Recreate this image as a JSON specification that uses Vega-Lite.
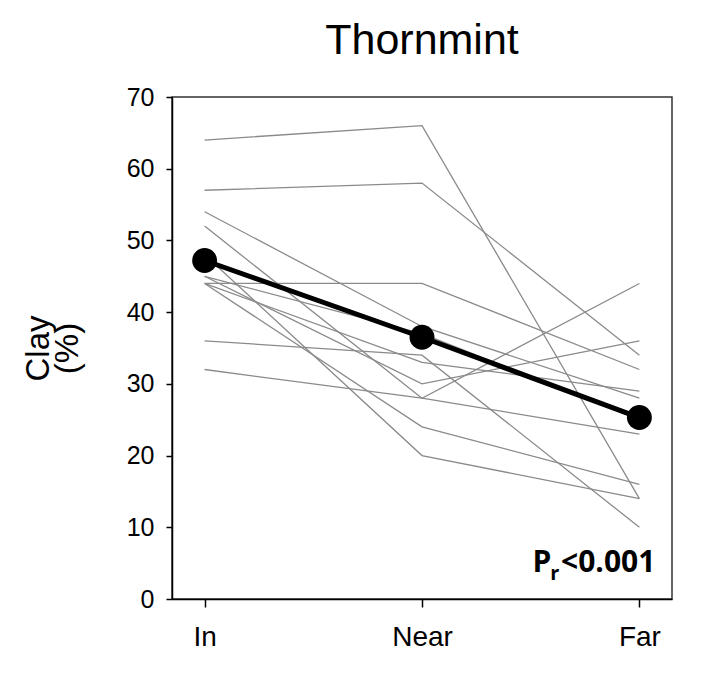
{
  "$schema": "https://vega.github.io/schema/vega-lite/v6.json",
  "width": 500,
  "height": 502,
  "autosize": "none",
  "padding": {"left": 172, "top": 97, "right": 53, "bottom": 87},
  "background": "white",
  "title": {"text": "Thornmint", "fontSize": 43, "font": "Liberation Sans", "fontWeight": "normal", "color": "black", "anchor": "middle", "offset": 22},
  "config": {
    "view": {"stroke": "#333333", "strokeWidth": 1.5},
    "axis": {"labelFont": "Liberation Sans", "titleFont": "Liberation Sans", "labelColor": "black", "titleColor": "black", "domainColor": "black", "tickColor": "black", "domainWidth": 1.5, "tickWidth": 1.5, "grid": false}
  },
  "datasets": {
    "sites": [
      {"site": "A", "pos": "In", "clay": 64}, {"site": "A", "pos": "Near", "clay": 66}, {"site": "A", "pos": "Far", "clay": 14},
      {"site": "B", "pos": "In", "clay": 57}, {"site": "B", "pos": "Near", "clay": 58}, {"site": "B", "pos": "Far", "clay": 34},
      {"site": "C", "pos": "In", "clay": 44}, {"site": "C", "pos": "Near", "clay": 44}, {"site": "C", "pos": "Far", "clay": 32},
      {"site": "D", "pos": "In", "clay": 54}, {"site": "D", "pos": "Near", "clay": 38}, {"site": "D", "pos": "Far", "clay": 28},
      {"site": "E", "pos": "In", "clay": 52}, {"site": "E", "pos": "Near", "clay": 28}, {"site": "E", "pos": "Far", "clay": 44},
      {"site": "F", "pos": "In", "clay": 48}, {"site": "F", "pos": "Near", "clay": 20}, {"site": "F", "pos": "Far", "clay": 14},
      {"site": "G", "pos": "In", "clay": 44}, {"site": "G", "pos": "Near", "clay": 24}, {"site": "G", "pos": "Far", "clay": 16},
      {"site": "H", "pos": "In", "clay": 36}, {"site": "H", "pos": "Near", "clay": 34}, {"site": "H", "pos": "Far", "clay": 10},
      {"site": "I", "pos": "In", "clay": 32}, {"site": "I", "pos": "Near", "clay": 28}, {"site": "I", "pos": "Far", "clay": 23},
      {"site": "J", "pos": "In", "clay": 45}, {"site": "J", "pos": "Near", "clay": 30}, {"site": "J", "pos": "Far", "clay": 36},
      {"site": "K", "pos": "In", "clay": 44}, {"site": "K", "pos": "Near", "clay": 33}, {"site": "K", "pos": "Far", "clay": 29},
      {"site": "L", "pos": "In", "clay": 45}, {"site": "L", "pos": "Near", "clay": 37}, {"site": "L", "pos": "Far", "clay": 25}
    ],
    "mean": [
      {"pos": "In", "clay": 47.2}, {"pos": "Near", "clay": 36.5}, {"pos": "Far", "clay": 25.3}
    ],
    "note": [
      {"pos": "Far", "clay": 3.7, "part": "P", "label": "P"},
      {"pos": "Far", "clay": 3.7, "part": "sub", "label": "r"},
      {"pos": "Far", "clay": 3.7, "part": "rest", "label": "<0.001"}
    ]
  },
  "encoding": {
    "x": {"field": "pos", "type": "ordinal", "sort": ["In", "Near", "Far"],
      "scale": {"type": "point", "domain": ["In", "Near", "Far"], "padding": 0.15},
      "axis": {"title": null, "labelAngle": 0, "labelFontSize": 28, "tickSize": 8, "labelPadding": 16, "domain": true}},
    "y": {"field": "clay", "type": "quantitative",
      "scale": {"domain": [0, 70], "nice": false},
      "axis": {"title": ["Clay", "(%)"], "titleFontSize": 33, "titleFontWeight": "normal", "titleLineHeight": 29, "values": [0, 10, 20, 30, 40, 50, 60, 70], "labelFontSize": 25, "tickSize": 6, "labelPadding": 12, "titlePadding": 42}}
  },
  "layer": [
    {"data": {"name": "sites"}, "mark": {"type": "line", "color": "#8a8a8a", "strokeWidth": 1.3}, "encoding": {"detail": {"field": "site"}}},
    {"data": {"name": "mean"}, "mark": {"type": "line", "color": "black", "strokeWidth": 5}, "encoding": {}},
    {"data": {"name": "mean"}, "mark": {"type": "point", "filled": true, "color": "black", "opacity": 1, "size": 620}, "encoding": {}},
    {"data": {"name": "note"}, "transform": [{"filter": "datum.part === 'rest'"}], "mark": {"type": "text", "align": "right", "baseline": "alphabetic", "dx": 16, "font": "Open Sans", "fontWeight": "bold", "fontSize": 30, "color": "black"}, "encoding": {"text": {"field": "label"}}},
    {"data": {"name": "note"}, "transform": [{"filter": "datum.part === 'sub'"}], "mark": {"type": "text", "align": "right", "baseline": "alphabetic", "dx": -80, "dy": 8, "font": "Open Sans", "fontWeight": "bold", "fontSize": 20, "color": "black"}, "encoding": {"text": {"field": "label"}}},
    {"data": {"name": "note"}, "transform": [{"filter": "datum.part === 'P'"}], "mark": {"type": "text", "align": "right", "baseline": "alphabetic", "dx": -88, "font": "Open Sans", "fontWeight": "bold", "fontSize": 30, "color": "black"}, "encoding": {"text": {"field": "label"}}}
  ]
}
